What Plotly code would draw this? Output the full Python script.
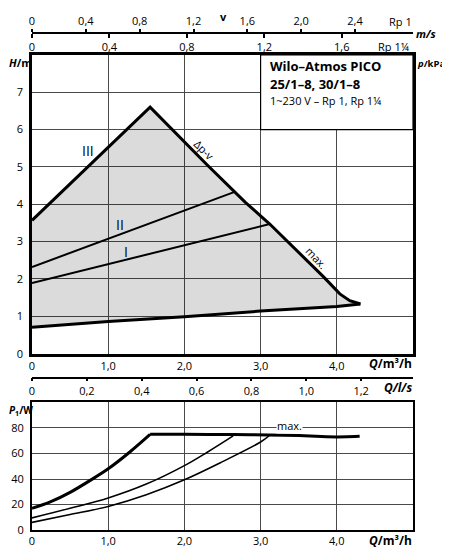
import plotly.graph_objects as go

# pump curves, H in m over Q in m3/h
q_max = [0, 1.55, 2.3, 2.8, 3.12, 3.38, 3.82, 4.04, 4.17, 4.31]
h_max = [3.57, 6.6, 5.05, 4.05, 3.47, 2.95, 2.07, 1.6, 1.42, 1.33]
q_min = [0, 1, 2, 3, 4, 4.31]
h_min = [0.71, 0.86, 0.99, 1.14, 1.26, 1.33]
q_II = [0, 2.66]
h_II = [2.32, 4.33]
q_I = [0, 3.12]
h_I = [1.89, 3.47]

# power input P1 in W over Q in m3/h (max curve: rising part, then flat part)
q_pmax_rise = [0, 0.24, 0.5, 0.78, 1.0, 1.28, 1.55]
p_max_rise = [17, 22, 29.5, 39.5, 48, 61, 75]
q_pmax_flat = [1.55, 2.0, 2.64, 3.1, 3.5, 3.8, 4.0, 4.3]
p_max_flat = [75, 75, 74.8, 74.5, 74.2, 73.3, 73, 73.5]
q_pII = [0, 0.5, 1.0, 1.5, 2.0, 2.3, 2.64]
p_II = [9.5, 17, 25.1, 36, 50.5, 61, 73.8]
q_pI = [0, 0.5, 1.0, 1.5, 2.0, 2.5, 3.0, 3.12]
p_I = [6, 12.1, 18.5, 27.7, 39.4, 53.6, 69, 74.3]

# tick labels
q_ticks = [0, 1, 2, 3, 4]
q_text = ["0", "1,0", "2,0", "3,0", "4,0"]
h_ticks = [0, 1, 2, 3, 4, 5, 6, 7]
kpa_ticks = [0, 10, 20, 30, 40, 50, 60, 70]
p_ticks = [0, 20, 40, 60, 80]
v1_ticks = [0, 0.4, 0.8, 1.2, 1.6, 2.0, 2.4]
v1_text = ["0", "0,4", "0,8", "1,2", "1,6", "2,0", "2,4"]
v114_ticks = [0, 0.4, 0.8, 1.2, 1.6]
v114_text = ["0", "0,4", "0,8", "1,2", "1,6"]
ls_ticks = [0, 0.2, 0.4, 0.6, 0.8, 1.0, 1.2]
ls_text = ["0", "0,2", "0,4", "0,6", "0,8", "1,0", "1,2"]

Q_MAX = 5.0
V_RP1 = 2.831     # m/s at Q_MAX for Rp 1
V_RP114 = 1.968   # m/s at Q_MAX for Rp 1 1/4
LS_MAX = Q_MAX / 3.6

# page has an 8px body margin; figure fills the rest of the window
OFF = 8
W, H = 450 - OFF - 1, 550 - OFF
L, T = 32 - OFF, 2
R = W - (413 - OFF)
B = H - (532 - OFF)
FONT = "Open Sans"


# helpers: picture pixel -> paper coords
def px(x):
    return (x - OFF - L) / (W - L - R)


def py(y):
    return (H - B - (y - OFF)) / (H - T - B)


fig = go.Figure()

# gray operating field
fig.add_trace(go.Scatter(x=q_max + q_min[::-1], y=h_max + h_min[::-1],
                         fill="toself", fillcolor="rgba(0,0,0,0.14)",
                         line=dict(width=0), mode="lines", hoverinfo="skip",
                         xaxis="x", yaxis="y"))
fig.add_trace(go.Scatter(x=q_max, y=h_max, mode="lines",
                         line=dict(color="black", width=3), xaxis="x", yaxis="y"))
fig.add_trace(go.Scatter(x=q_min, y=h_min, mode="lines",
                         line=dict(color="black", width=3), xaxis="x", yaxis="y"))
fig.add_trace(go.Scatter(x=q_II, y=h_II, mode="lines",
                         line=dict(color="black", width=2), xaxis="x", yaxis="y"))
fig.add_trace(go.Scatter(x=q_I, y=h_I, mode="lines",
                         line=dict(color="black", width=2), xaxis="x", yaxis="y"))

fig.add_trace(go.Scatter(x=q_pmax_rise, y=p_max_rise, mode="lines",
                         line=dict(color="black", width=3, shape="spline",
                                   smoothing=0.8), xaxis="x2", yaxis="y3"))
fig.add_trace(go.Scatter(x=q_pmax_flat, y=p_max_flat, mode="lines",
                         line=dict(color="black", width=3, shape="spline",
                                   smoothing=0.4), xaxis="x2", yaxis="y3"))
fig.add_trace(go.Scatter(x=q_pII, y=p_II, mode="lines",
                         line=dict(color="black", width=1.6, shape="spline"),
                         xaxis="x2", yaxis="y3"))
fig.add_trace(go.Scatter(x=q_pI, y=p_I, mode="lines",
                         line=dict(color="black", width=1.6, shape="spline"),
                         xaxis="x2", yaxis="y3"))

# empty traces so the extra velocity / flow axes get drawn
for ax in ["x3", "x4", "x5"]:
    fig.add_trace(go.Scatter(x=[], y=[], xaxis=ax, yaxis="y", hoverinfo="skip"))

grid = "#4a4a4a"
top_dom = [py(355), py(55)]
bot_dom = [0, py(404)]
tickfont = dict(family=FONT, size=11, color="black")

fig.update_layout(
    width=W, height=H, showlegend=False,
    margin=dict(l=L, r=R, t=T, b=B),
    paper_bgcolor="white", plot_bgcolor="white",
    font=dict(family=FONT, color="black"),
    xaxis=dict(range=[0, Q_MAX], domain=[0, 1], anchor="y",
               tickvals=q_ticks, ticktext=q_text, tickfont=tickfont,
               showgrid=True, gridcolor=grid, gridwidth=1, zeroline=False,
               showline=True, linecolor="black", linewidth=2.5, mirror=True),
    yaxis=dict(range=[0, 8], domain=top_dom, anchor="x",
               tickvals=h_ticks, tickfont=tickfont, ticklabelstandoff=4,
               showgrid=True, gridcolor=grid, gridwidth=1, zeroline=False,
               showline=True, linecolor="black", linewidth=2.5, mirror=True),
    yaxis2=dict(range=[0, 80], overlaying="y", side="right", anchor="x",
                tickvals=kpa_ticks, tickfont=tickfont, ticks="outside",
                ticklen=4, tickcolor="black", showgrid=False, zeroline=False),
    xaxis2=dict(range=[0, Q_MAX], domain=[0, 1], anchor="y3",
                tickvals=q_ticks, ticktext=q_text, tickfont=tickfont,
                showgrid=True, gridcolor=grid, gridwidth=1, zeroline=False,
                showline=True, linecolor="black", linewidth=2, mirror=True),
    yaxis3=dict(range=[0, 100], domain=bot_dom, anchor="x2",
                tickvals=p_ticks, tickfont=tickfont, ticklabelstandoff=4,
                showgrid=True, gridcolor=grid, gridwidth=1, zeroline=False,
                showline=True, linecolor="black", linewidth=2, mirror=True),
    xaxis3=dict(range=[0, V_RP1], overlaying="x", anchor="free",
                position=py(33), side="top", tickvals=v1_ticks,
                ticktext=v1_text, tickfont=tickfont, ticks="outside",
                ticklen=3, tickwidth=1.5, tickcolor="black", showgrid=False,
                zeroline=False, showline=True, linecolor="black", linewidth=1.5),
    xaxis4=dict(range=[0, V_RP114], overlaying="x", anchor="free",
                position=py(33), side="bottom", tickvals=v114_ticks,
                ticktext=v114_text, tickfont=tickfont, ticks="outside",
                ticklen=4, tickwidth=1.5, tickcolor="black", showgrid=False,
                zeroline=False, showline=False),
    xaxis5=dict(range=[0, LS_MAX], overlaying="x", anchor="free",
                position=py(379), side="bottom", tickvals=ls_ticks,
                ticktext=ls_text, tickfont=tickfont, ticks="outside",
                ticklen=3, tickwidth=1.5, tickcolor="black", showgrid=False,
                zeroline=False, showline=True, linecolor="black", linewidth=1.5),
)

# white title box in the upper right corner
fig.add_shape(type="rect", xref="x", yref="y", x0=3, x1=Q_MAX, y0=6, y1=8,
              fillcolor="white", line=dict(color="black", width=1.2),
              layer="between")


def note(text, x, y, xanchor="center", size=11, xref="paper", yref="paper",
         angle=0, bg=None):
    fig.add_annotation(text=text, x=x, y=y, xref=xref, yref=yref,
                       xanchor=xanchor, yanchor="middle", showarrow=False,
                       textangle=angle, bgcolor=bg, borderpad=0,
                       font=dict(family=FONT, size=size, color="black"))


note("<b>v</b>", px(223), py(17), size=11)
note("Rp 1", px(413), py(22), xanchor="right")
note("<b><i>m/s</i></b>", px(415), py(34), xanchor="left", size=11)
note("Rp 1¼", px(411), py(47), xanchor="right")
note("<b><i>H</i>/m</b>", px(8), py(63), xanchor="left", size=11)
note("<b><i>p</i>/kPa</b>", px(416), py(64), xanchor="left", size=9.5)
note("<b><i>Q</i>/m³/h</b>", px(413), py(365), xanchor="right", size=12)
note("<b><i>Q/l/s</i></b>", px(413), py(389), xanchor="right", size=12)
note("<b><i>P</i><sub>1</sub>/W</b>", px(8), py(412), xanchor="left", size=10)
note("<b><i>Q</i>/m³/h</b>", px(413), py(543), xanchor="right", size=12)

note("<b>Wilo–Atmos PICO</b>", px(269), py(66), xanchor="left", size=13)
note("<b>25/1–8, 30/1–8</b>", px(269), py(84), xanchor="left", size=13)
note("1~230 V – Rp 1, Rp 1¼", px(269), py(101), xanchor="left", size=11)

note("III", 0.73, 5.45, size=14, xref="x", yref="y")
note("II", 1.15, 3.46, size=14, xref="x", yref="y")
note("I", 1.23, 2.74, size=14, xref="x", yref="y")
note("Δp-v", 2.27, 5.45, size=11, xref="x", yref="y", angle=45)
note("max.", 3.73, 2.57, size=11, xref="x", yref="y", angle=47)
note("max.", 3.38, 82, size=11, xref="x2", yref="y3", bg="white")

fig.write_html("out.html")
